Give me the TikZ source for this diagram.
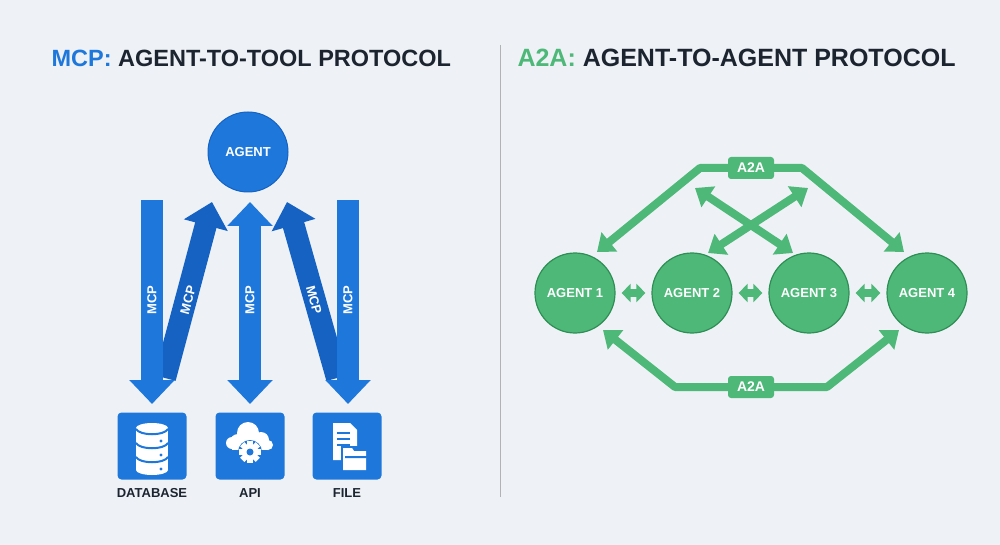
\documentclass[tikz,border=0pt]{standalone}
\usepackage{fontspec}
\setmainfont{Liberation Sans}
\usetikzlibrary{arrows.meta}
\definecolor{bg}{HTML}{EEF2F6}
\definecolor{blu}{HTML}{1E78DC}
\definecolor{dblu}{HTML}{1562C2}
\definecolor{grn}{HTML}{4DB878}
\definecolor{dgrn}{HTML}{2E8F55}
\definecolor{ink}{HTML}{1C2430}
\tikzset{
  fat/.style={draw=blu, line width=22pt, -{Triangle[width=44pt,length=24pt]}},
  fatd/.style={fat, draw=dblu, fill=dblu},
  fatb/.style={draw=blu, line width=22pt, {Triangle[width=44pt,length=24pt]}-{Triangle[width=44pt,length=24pt]}},
  mcp/.style={text=white, font=\bfseries\fontsize{13}{13}\selectfont},
  iconbox/.style={fill=blu, rounded corners=4pt, minimum width=69pt, minimum height=67pt, inner sep=0},
  tlabel/.style={font=\bfseries\fontsize{13}{13}\selectfont, text=ink},
  agentc/.style={circle, fill=grn, draw=dgrn, line width=1.2pt, minimum size=80pt, text=white, font=\bfseries\fontsize{13}{13}\selectfont},
  garr/.style={draw=grn, line width=8pt, line join=round, -{Triangle[width=24pt,length=16pt]}},
  garrb/.style={draw=grn, line width=8pt, {Triangle[width=24pt,length=16pt]}-{Triangle[width=24pt,length=16pt]}},
  gsmall/.style={draw=grn, line width=8pt, {Triangle[width=18pt,length=9pt]}-{Triangle[width=18pt,length=9pt]}, shorten <=6pt, shorten >=6pt},
  a2a/.style={fill=grn, rounded corners=3pt, text=white, font=\bfseries\fontsize{14}{14}\selectfont, minimum width=46pt, minimum height=22pt, inner sep=0},
  sep/.style={draw=blu, line width=2pt},
}
\begin{document}
\begin{tikzpicture}[x=1pt,y=-1pt]
\useasboundingbox (0,0) rectangle (1000,545);
\fill[bg] (0,0) rectangle (1000,545);
\node[anchor=west, font=\bfseries\fontsize{23.5}{24}\selectfont] (t1) at (48,58) {\textcolor{blu}{MCP:} \textcolor{ink}{AGENT-TO-TOOL PROTOCOL}};
\node[anchor=west, font=\bfseries\fontsize{25}{25}\selectfont] (t2) at (514,58) {\textcolor{grn}{A2A:} \textcolor{ink}{AGENT-TO-AGENT PROTOCOL}};
\draw[gray!60, line width=1pt] (500,45) -- (500,497);

% left
\node[circle, fill=blu, draw=dblu, line width=1pt, minimum size=80pt, text=white, font=\bfseries\fontsize{13}{13}\selectfont] (agent) at (248,152) {AGENT};
\coordinate (a1s) at (152,200); \coordinate (a1e) at (152,404);
\coordinate (a2s) at (165,378); \coordinate (a2e) at (212,202);
\coordinate (a3s) at (250,202); \coordinate (a3e) at (250,404);
\coordinate (a4s) at (337,378); \coordinate (a4e) at (287,202);
\coordinate (a5s) at (348,200); \coordinate (a5e) at (348,404);
\draw[fatd] (a2s) -- (a2e);
\draw[fatd] (a4s) -- (a4e);
\draw[fat] (a1s) -- (a1e);
\draw[fat] (a5s) -- (a5e);
\draw[fatb] (a3s) -- (a3e);
\node[mcp, rotate=90] (m1) at (152,300) {MCP};
\node[mcp, rotate=75] (m2) at (188,300) {MCP};
\node[mcp, rotate=90] (m3) at (250,300) {MCP};
\node[mcp, rotate=-75] (m4) at (314,300) {MCP};
\node[mcp, rotate=90] (m5) at (348,300) {MCP};

\node[iconbox] (db) at (152,446) {};
\node[iconbox] (api) at (250,446) {};
\node[iconbox] (file) at (347,446) {};
% database icon
\fill[white] (136,428) rectangle (168,470);
\fill[white] (152,428) ellipse (16 and 5);
\fill[white] (152,470) ellipse (16 and 5);
\draw[sep] (136,429) .. controls (140,436) and (164,436) .. (168,429);
\draw[sep] (136,443) .. controls (140,450) and (164,450) .. (168,443);
\draw[sep] (136,457) .. controls (140,464) and (164,464) .. (168,457);
\foreach \yy in {441,455,469}{\fill[blu] (161,\yy) circle (1.7);}
% cloud gear icon
\fill[white] (238,442) circle (8) (248,433) circle (11) (261,440) circle (8) (232,443) circle (6) (268,445) circle (5);
\fill[white] (232,442) rectangle (268,450);
\fill[blu] (250,452) circle (12);
\foreach \a in {0,45,...,315}{\fill[white, rotate around={\a:(250,452)}] (247,441) rectangle (253,446);}
\fill[white] (250,452) circle (8);
\fill[blu] (250,452) circle (3.5);
% file icon
\fill[white] (333,423) -- (350,423) -- (357,430) -- (357,460) -- (333,460) -- cycle;
\foreach \yy in {432,438,444}{\fill[blu] (337,\yy) rectangle (350,\yy+2);}
\fill[blu] (341,446) rectangle (368,472);
\fill[white] (343,448) -- (352,448) -- (354,451) -- (366,451) -- (366,470) -- (343,470) -- cycle;
\fill[blu] (345,456) -- (368,456) -- (366,458) -- (345,458) -- cycle;
\node[tlabel] (l1) at (152,493) {DATABASE};
\node[tlabel] (l2) at (250,493) {API};
\node[tlabel] (l3) at (347,493) {FILE};

% right
\node[agentc] (g1) at (575,293) {AGENT 1};
\node[agentc] (g2) at (692,293) {AGENT 2};
\node[agentc] (g3) at (809,293) {AGENT 3};
\node[agentc] (g4) at (927,293) {AGENT 4};
\draw[gsmall] (g1) -- (g2);
\draw[gsmall] (g2) -- (g3);
\draw[gsmall] (g3) -- (g4);
\node[a2a] (top) at (751,168) {A2A};
\node[a2a] (bot) at (751,387) {A2A};
\draw[garr] (top.west) -- (700,168) -- (597,252);
\draw[garr] (top.east) -- (802,168) -- (904,252);
\draw[garr] (bot.west) -- (675,387) -- (603,330);
\draw[garr] (bot.east) -- (827,387) -- (899,330);
\coordinate (c1) at (695,188); \coordinate (c2) at (808,188);
\coordinate (c3) at (793,253); \coordinate (c4) at (708,253);
\draw[garrb] (c1) -- (c3);
\draw[garrb] (c2) -- (c4);
\end{tikzpicture}
\end{document}
